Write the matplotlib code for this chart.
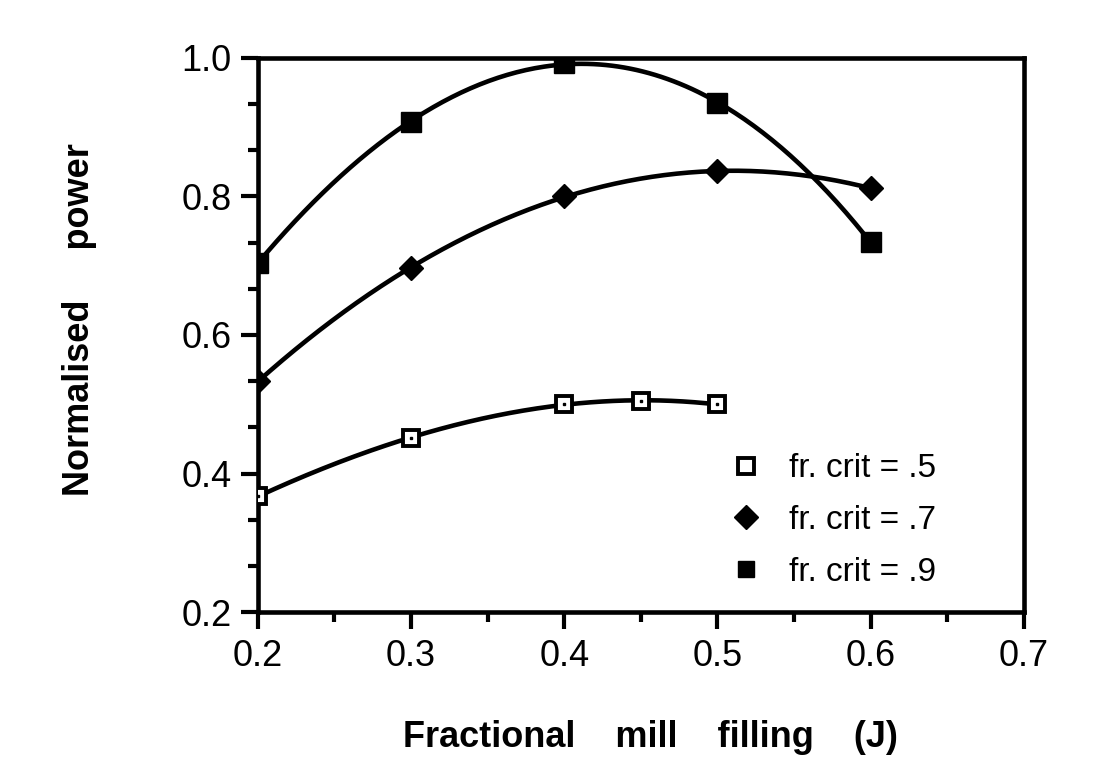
import matplotlib
matplotlib.use("Agg")
import matplotlib.pyplot as plt
import numpy as np

plt.rcParams["font.family"] = ["Liberation Sans", "DejaVu Sans"]

# data
x_05 = [0.2, 0.3, 0.4, 0.45, 0.5]
y_05 = [0.367, 0.452, 0.500, 0.505, 0.500]

x_07 = [0.2, 0.3, 0.4, 0.5, 0.6]
y_07 = [0.533, 0.697, 0.800, 0.836, 0.812]

x_09 = [0.2, 0.3, 0.4, 0.5, 0.6]
y_09 = [0.704, 0.908, 0.992, 0.935, 0.734]

labels = ["fr. crit = .5", "fr. crit = .7", "fr. crit = .9"]
x_ticks = [0.2, 0.3, 0.4, 0.5, 0.6, 0.7]
y_ticks = [0.2, 0.4, 0.6, 0.8, 1.0]

fig = plt.figure(figsize=(11.02, 7.71), dpi=100)
ax = fig.add_axes([0.234, 0.206, 0.695, 0.719])


def smooth(xs, ys, deg=3):
    coef = np.polyfit(xs, ys, deg)
    xx = np.linspace(min(xs), max(xs), 200)
    return xx, np.polyval(coef, xx)


for xs, ys in [(x_05, y_05), (x_07, y_07), (x_09, y_09)]:
    xx, yy = smooth(xs, ys)
    ax.plot(xx, yy, color="black", lw=3.3, solid_capstyle="round", zorder=2)

ax.plot(x_05, y_05, "s", ms=11, mfc="white", mec="black", mew=2.8, ls="none", zorder=3)
ax.plot(x_05, y_05, "s", ms=2, color="black", ls="none", zorder=4)
ax.plot(x_07, y_07, "D", ms=12, color="black", ls="none", zorder=3)
ax.plot(x_09, y_09, "s", ms=14, color="black", ls="none", zorder=3)

# legend drawn as plain handles
h1, = ax.plot([], [], "s", ms=11, mfc="white", mec="black", mew=2.8)
h2, = ax.plot([], [], "D", ms=12, color="black")
h3, = ax.plot([], [], "s", ms=12, color="black")
leg = ax.legend([h1, h2, h3], labels, loc="lower left", frameon=False,
                fontsize=24, handletextpad=0.3, labelspacing=0.62,
                bbox_to_anchor=(0.576, 0.02), borderaxespad=0)

ax.set_xlim(0.2, 0.7)
ax.set_ylim(0.2, 1.0)
ax.set_xticks(x_ticks)
ax.set_xticks(np.arange(0.25, 0.7, 0.1), minor=True)
ax.set_yticks(y_ticks)
ax.set_yticks([v for v in np.arange(0.2, 1.0, 0.2 / 3) if round(v * 15) % 3 != 0], minor=True)
ax.set_xticklabels([f"{v:.1f}" for v in x_ticks])
ax.set_yticklabels([f"{v:.1f}" for v in y_ticks])

for s in ax.spines.values():
    s.set_linewidth(3.3)
ax.tick_params(which="major", direction="out", length=12, width=3, labelsize=26, pad=7)
ax.tick_params(which="minor", direction="out", length=7, width=3)

ax.set_xlabel("Fractional    mill    filling    (J)", fontsize=26, fontweight="bold")
ax.xaxis.set_label_coords(0.512, -0.195)
ax.set_ylabel("Normalised     power", fontsize=26, fontweight="bold")
ax.yaxis.set_label_coords(-0.21, 0.527)

fig.savefig("out.png", dpi=100)
